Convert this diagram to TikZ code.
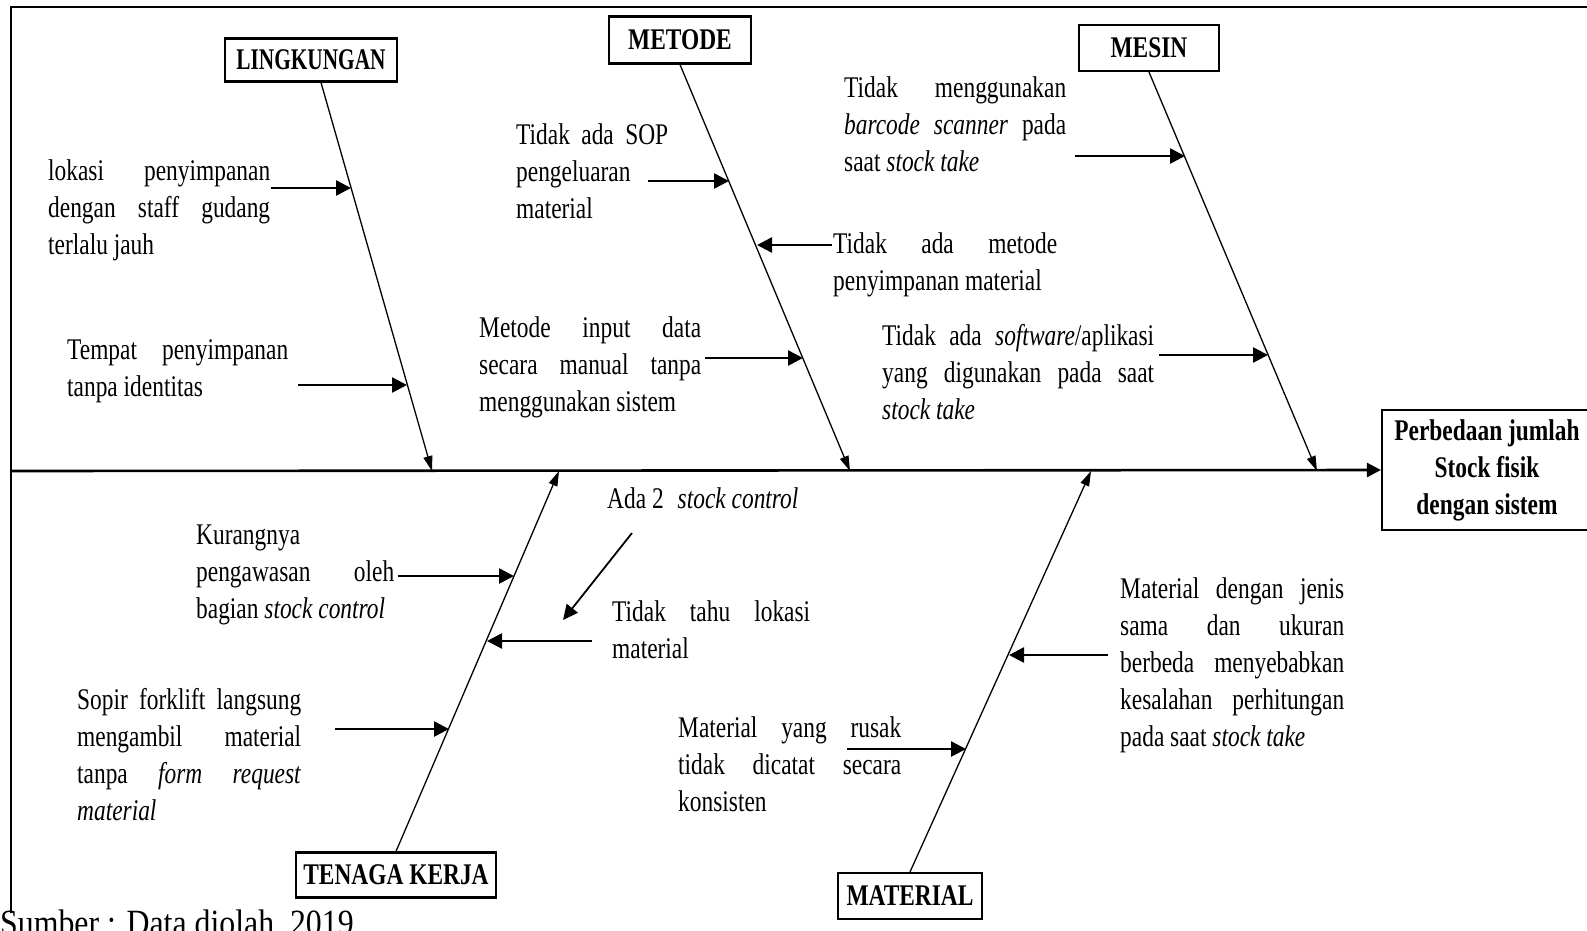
\documentclass[tikz,border=0pt]{standalone}
\usepackage{fontspec}
\setmainfont{Liberation Serif}[FakeStretch=0.78]
\newfontfamily\srcfont{Liberation Serif}[FakeStretch=0.86]
\usetikzlibrary{arrows.meta,positioning,calc}
\newcommand{\diafont}{\fontsize{30}{37}\selectfont}
\newcommand{\jl}[1]{{\spaceskip=0pt\xspaceskip=0pt\makebox[\linewidth][s]{#1}}\\}
\tikzset{
  catbox/.style={draw, line width=2.2pt, font=\diafont\bfseries, minimum height=45pt, inner sep=4pt},
  effbox/.style={draw, line width=2.2pt, font=\diafont\bfseries, align=center, minimum width=210pt, minimum height=120pt, inner sep=0pt},
  cause/.style={anchor=base west, align=justify, inner sep=0pt, execute at begin node={\spaceskip=0pt\xspaceskip=0pt}},
  bone/.style={-{Triangle[length=15pt,width=9pt]}, line width=1.3pt},
  line/.style={-{Triangle[length=15pt,width=15pt]}, line width=2.6pt},
  spine/.style={-{Triangle[length=14pt,width=14pt]}, line width=2.6pt}
}

\begin{document}
\begin{tikzpicture}[x=1pt, y=-1pt, font=\diafont]
        \useasboundingbox (0,0) rectangle (1587,930);
        \draw[line width=1.6pt] (11,913) -- (11,7);
        \draw[line width=2.4pt] (10,7) -- (1600,7);
        \node[catbox, minimum width=172pt, minimum height=43pt] (lingk) at (311,60) {\scalebox{0.91}[1]{LINGKUNGAN}};
        \node[catbox, minimum width=142pt, minimum height=47pt] (metode) at (680,40) {METODE};
        \node[catbox, minimum width=140pt, minimum height=46pt] (mesin) at (1149,48) {MESIN};
        \node[catbox, minimum width=200pt] (tenaga) at (396,875) {TENAGA KERJA};
        \node[catbox, minimum width=144pt, minimum height=46pt] (material) at (910,896) {MATERIAL};
        \node[effbox] (effect) at (1487,470) {Perbedaan jumlah\\Stock fisik\\dengan sistem};
        \coordinate (tail) at (11,471);
        \coordinate (pL) at (432,471);
        \coordinate (pM) at (850,471);
        \coordinate (pS) at (1317,471);
        \coordinate (pT) at (559,471);
        \coordinate (pMat) at (1091,471);
        \draw[spine] (tail) -- (effect.west);
        \draw[bone] ([xshift=10pt]lingk.south) -- (pL);
        \draw[bone] (metode.south) -- (pM);
        \draw[bone] (mesin.south) -- (pS);
        \draw[bone] (tenaga.north) -- (pT);
        \draw[bone] (material.north) -- (pMat);
        \node[cause, text width=222pt] (c1) at (48,180) {\jl{lokasi penyimpanan}\jl{dengan staff gudang}terlalu jauh};
        \node[cause, text width=221pt] (c2) at (67,359) {\jl{Tempat penyimpanan}tanpa identitas};
        \node[cause, text width=152pt] (c3) at (516,144) {\jl{Tidak ada SOP}pengeluaran\\material};
        \node[cause, text width=224pt] (c4) at (833,253) {\jl{Tidak ada metode}penyimpanan material};
        \node[cause, text width=222pt] (c5) at (479,337) {\jl{Metode input data}\jl{secara manual tanpa}menggunakan sistem};
        \node[cause, text width=222pt] (c6) at (844,97) {\jl{Tidak menggunakan}\jl{\emph{barcode scanner} pada}saat \emph{stock take}};
        \node[cause, text width=272pt] (c7) at (882,345) {\jl{Tidak ada \emph{software}/aplikasi}\jl{yang digunakan pada saat}\emph{stock take}};
        \node[cause, text width=198pt] (c8) at (196,544) {Kurangnya\\\jl{pengawasan oleh}bagian \emph{stock control}};
        \node[cause] (c9) at (607,508) {Ada 2\hspace{14pt}\emph{stock control}};
        \node[cause, text width=198pt] (c10) at (612,621) {\jl{Tidak tahu lokasi}material};
        \node[cause, text width=224pt] (c11) at (77,709) {\jl{Sopir forklift langsung}\jl{mengambil material}\jl{tanpa \emph{form request}}\emph{material}};
        \node[cause, text width=223pt] (c12) at (678,737) {\jl{Material yang rusak}\jl{tidak dicatat secara}konsisten};
        \node[cause, text width=224pt] (c13) at (1120,598) {\jl{Material dengan jenis}\jl{sama dan ukuran}\jl{berbeda menyebabkan}\jl{kesalahan perhitungan}pada saat \emph{stock take}};
        \coordinate (s1) at (271,188);  \coordinate (e1) at (351,188);
        \coordinate (s2) at (298,385);  \coordinate (e2) at (407,385);
        \coordinate (s3) at (648,181);  \coordinate (e3) at (729,181);
        \coordinate (s4) at (832,245);  \coordinate (e4) at (757,245);
        \coordinate (s5) at (705,358);  \coordinate (e5) at (803,358);
        \coordinate (s6) at (1075,156); \coordinate (e6) at (1185,156);
        \coordinate (s7) at (1159,355); \coordinate (e7) at (1268,355);
        \coordinate (s8) at (398,576);  \coordinate (e8) at (514,576);
        \coordinate (s9) at (592,641);  \coordinate (e9) at (487,641);
        \coordinate (s10) at (335,729); \coordinate (e10) at (449,729);
        \coordinate (s11) at (632,533); \coordinate (e11) at (563,620);
        \coordinate (s12) at (847,749); \coordinate (e12) at (966,749);
        \coordinate (s13) at (1108,655); \coordinate (e13) at (1009,655);
        \draw[line] (s1) -- (e1);
        \draw[line] (s2) -- (e2);
        \draw[line] (s3) -- (e3);
        \draw[line] (s4) -- (e4);
        \draw[line] (s5) -- (e5);
        \draw[line] (s6) -- (e6);
        \draw[line] (s7) -- (e7);
        \draw[line] (s8) -- (e8);
        \draw[line] (s9) -- (e9);
        \draw[line] (s10) -- (e10);
        \draw[bone, -{Triangle[length=15pt,width=14pt]}, line width=1.8pt] (s11) -- (e11);
        \draw[line] (s12) -- (e12);
        \draw[line] (s13) -- (e13);
        \node[anchor=base west, inner sep=0pt, font=\srcfont\fontsize{37}{40}\selectfont] (src) at (0,935) {Sumber : Data diolah, 2019};
      \end{tikzpicture}
\end{document}
